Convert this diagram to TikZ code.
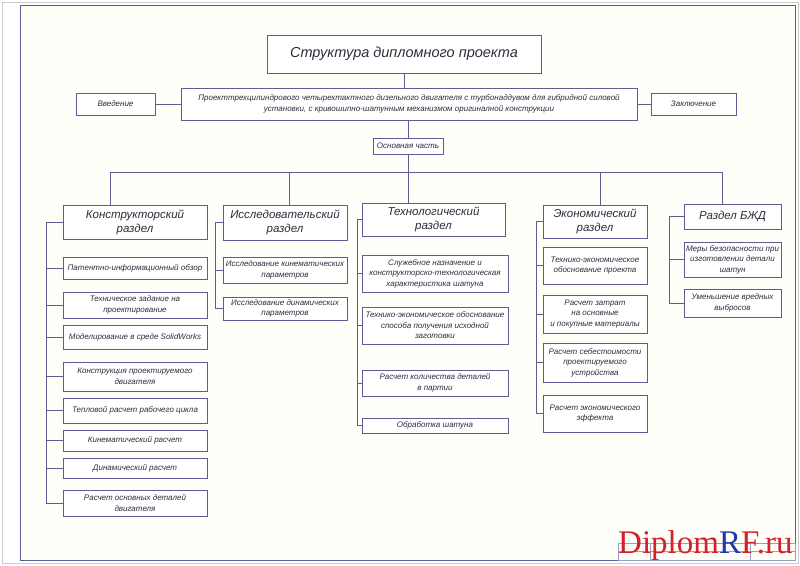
\documentclass[tikz,border=0pt]{standalone}
\usepackage{fontspec}
\setmainfont{Liberation Sans}
\newfontfamily\wmfont{Liberation Serif}
\definecolor{lc}{RGB}{92,92,150}
\definecolor{tc}{RGB}{45,45,60}
\definecolor{wmred}{RGB}{212,32,40}
\definecolor{wmblue}{RGB}{30,60,175}
\definecolor{bg}{RGB}{255,254,248}
\tikzset{
  bx/.style={draw=lc, line width=0.7pt, fill=white, align=center, inner sep=1pt, text=tc,
    font=\itshape\fontsize{8}{10.5}\selectfont},
  hbx/.style={bx, font=\itshape\fontsize{11.5}{14}\selectfont},
  con/.style={draw=lc, line width=0.7pt}
}
\begin{document}
\begin{tikzpicture}[x=1pt,y=-1pt]
\useasboundingbox (0,0) rectangle (800,565);
% frames
\draw[gray!40, line width=0.6pt] (2,2) rectangle (798,563);
\draw[lc, line width=0.8pt, fill=bg] (20,5) rectangle (795,560);
% title block
\draw[lc!60, line width=0.5pt] (618,543) rectangle (795,560);
\draw[lc!60, line width=0.5pt] (618,551) -- (795,551);
\draw[lc!60, line width=0.5pt] (650,543) -- (650,560);
\draw[lc!60, line width=0.5pt] (750,543) -- (750,560);

% top
\node[bx, minimum width=274pt, minimum height=38pt, font=\itshape\fontsize{14.5}{17}\selectfont] (title) at (404,54) {Структура дипломного проекта};
\node[bx, minimum width=456pt, minimum height=32pt] (main) at (409,104) {Проекттрехцилиндрового четырехтактного дизельного двигателя с турбонаддувом для гибридной силовой\\ установки, с кривошипно-шатунным механизмом оригиналной конструкции};
\node[bx, minimum width=79pt, minimum height=22pt] (vved) at (115.5,104) {Введение};
\node[bx, minimum width=85pt, minimum height=22pt] (zakl) at (693.5,104) {Заключение};
\node[bx, minimum width=70pt, minimum height=16pt] (osn) at (408,146) {Основная часть};

% headers
\node[hbx, minimum width=144pt, minimum height=34pt] (K) at (135,222) {Конструкторский\\ раздел};
\node[hbx, minimum width=124pt, minimum height=35pt] (I) at (285,222.5) {Исследовательский\\ раздел};
\node[hbx, minimum width=143pt, minimum height=33pt] (T) at (433.5,219.5) {Технологический\\ раздел};
\node[hbx, minimum width=104pt, minimum height=33pt] (E) at (595,221.5) {Экономический\\ раздел};
\node[hbx, minimum width=97pt, minimum height=25pt] (B) at (732.5,216.5) {Раздел БЖД};

% column 1
\node[bx, minimum width=144pt, minimum height=22pt] (k1) at (135,268) {Патентно-информационный обзор};
\node[bx, minimum width=144pt, minimum height=26pt] (k2) at (135,305) {Техническое задание на\\ проектирование};
\node[bx, minimum width=144pt, minimum height=24pt] (k3) at (135,337) {Моделирование в среде SolidWorks};
\node[bx, minimum width=144pt, minimum height=29pt] (k4) at (135,376.5) {Конструкция проектируемого\\ двигателя};
\node[bx, minimum width=144pt, minimum height=25pt] (k5) at (135,410.5) {Тепловой расчет рабочего цикла};
\node[bx, minimum width=144pt, minimum height=21pt] (k6) at (135,440.5) {Кинематический расчет};
\node[bx, minimum width=144pt, minimum height=20pt] (k7) at (135,468) {Динамический расчет};
\node[bx, minimum width=144pt, minimum height=26pt] (k8) at (135,503) {Расчет основных деталей\\ двигателя};

% column 2
\node[bx, minimum width=124pt, minimum height=26pt] (i1) at (285,270) {Исследование кинематических\\ параметров};
\node[bx, minimum width=124pt, minimum height=23pt] (i2) at (285,308.5) {Исследование динамических\\ параметров};

% column 3
\node[bx, minimum width=146pt, minimum height=37pt] (t1) at (435,273.5) {Служебное назначение и\\ конструкторско-технологическая\\ характеристика шатуна};
\node[bx, minimum width=146pt, minimum height=37pt] (t2) at (435,325.5) {Технико-экономическое обоснование\\ способа получения исходной\\ заготовки};
\node[bx, minimum width=146pt, minimum height=26pt] (t3) at (435,383) {Расчет количества деталей\\ в партии};
\node[bx, minimum width=146pt, minimum height=15pt] (t4) at (435,425.5) {Обработка шатуна};

% column 4
\node[bx, minimum width=104pt, minimum height=37pt] (e1) at (595,265.5) {Технико-экономическое\\ обоснование проекта};
\node[bx, minimum width=104pt, minimum height=38pt] (e2) at (595,314) {Расчет затрат\\ на основные\\ и покупные материалы};
\node[bx, minimum width=104pt, minimum height=39pt] (e3) at (595,362.5) {Расчет себестоимости\\ проектируемого\\ устройства};
\node[bx, minimum width=104pt, minimum height=37pt] (e4) at (595,413.5) {Расчет экономического\\ эффекта};

% column 5
\node[bx, minimum width=97pt, minimum height=35pt] (b1) at (732.5,259.5) {Меры безопасности при\\ изготовлении детали\\ шатун};
\node[bx, minimum width=97pt, minimum height=28pt] (b2) at (732.5,303) {Уменьшение вредных\\ выбросов};

% top connectors
\draw[con] (title.south) -- (title.south |- main.north);
\draw[con] (vved.east) -- (main.west |- vved.east);
\draw[con] (main.east |- zakl.west) -- (zakl.west);
\draw[con] (osn.north |- main.south) -- (osn.north);
\coordinate (bus) at (0,172);
\coordinate (kx) at ([xshift=-25pt]K.north);
\coordinate (ix) at ([xshift=4pt]I.north);
\coordinate (tx) at ([xshift=-25.5pt]T.north);
\coordinate (ex) at ([xshift=5pt]E.north);
\coordinate (bx) at ([xshift=-10.5pt]B.north);
\draw[con] (osn.south) -- (osn.south |- bus);
\draw[con] (kx |- bus) -- (bx |- bus);
\foreach \c in {kx,ix,tx,ex,bx} \draw[con] (\c |- bus) -- (\c);

% spines
\coordinate (sK) at (46,0);
\coordinate (sI) at (215,0);
\coordinate (sT) at (357,0);
\coordinate (sE) at (536,0);
\coordinate (sB) at (669,0);
\draw[con] (K.west) -- (sK |- K.west) -- (sK |- k8.west) -- (k8.west);
\foreach \n in {k1,k2,k3,k4,k5,k6,k7} \draw[con] (sK |- \n.west) -- (\n.west);
\draw[con] (I.west) -- (sI |- I.west) -- (sI |- i2.west) -- (i2.west);
\draw[con] (sI |- i1.west) -- (i1.west);
\draw[con] (T.west) -- (sT |- T.west) -- (sT |- t4.west) -- (t4.west);
\foreach \n in {t1,t2,t3} \draw[con] (sT |- \n.west) -- (\n.west);
\draw[con] (E.west) -- (sE |- E.west) -- (sE |- e4.west) -- (e4.west);
\foreach \n in {e1,e2,e3} \draw[con] (sE |- \n.west) -- (\n.west);
\draw[con] (B.west) -- (sB |- B.west) -- (sB |- b2.west) -- (b2.west);
\draw[con] (sB |- b1.west) -- (b1.west);

% watermark
\node[anchor=base west, inner sep=0, font=\wmfont\fontsize{33}{33}\selectfont] (wm) at (618,553) {\textcolor{wmred}{Diplom}\textcolor{wmblue}{R}\textcolor{wmred}{F.ru}};
\end{tikzpicture}
\end{document}
